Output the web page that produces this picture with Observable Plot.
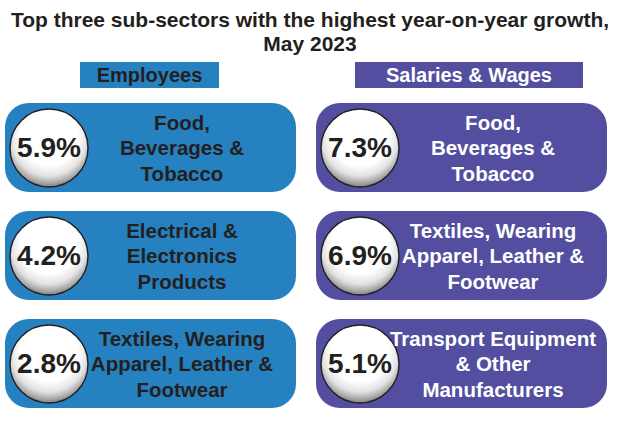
<!DOCTYPE html>
<html>
<head>
<meta charset="utf-8">
<script src="https://cdn.jsdelivr.net/npm/d3@7"></script>
<script src="https://cdn.jsdelivr.net/npm/@observablehq/plot@0.6"></script>
<style>
  html, body { margin: 0; padding: 0; background: #ffffff; }
  body { width: 620px; height: 433px; overflow: hidden; font-family: "Liberation Sans", Arial, sans-serif; color: #231f20; }
  #title { box-sizing: border-box; height: 58px; padding-top: 8px; text-align: center; font-weight: bold; font-size: 21px; line-height: 24px; }
  #headers { position: relative; height: 34px; }
  .hdr { position: absolute; top: 4px; height: 26px; line-height: 26px; text-align: center; font-weight: bold; font-size: 20px; }
  #chart svg { display: block; }
</style>
</head>
<body>
<div id="title">Top three sub-sectors with the highest year-on-year growth,<br>May 2023</div>
<div id="headers"></div>
<div id="chart"></div>
<script>
// ---- data ----
const series = ["Employees", "Salaries & Wages"];
const ranks = [1, 2, 3];
const employeesSectors = [
  "Food,\nBeverages &\nTobacco",
  "Electrical &\nElectronics\nProducts",
  "Textiles, Wearing\nApparel, Leather &\nFootwear"
];
const employeesGrowth = [5.9, 4.2, 2.8];
const wagesSectors = [
  "Food,\nBeverages &\nTobacco",
  "Textiles, Wearing\nApparel, Leather &\nFootwear",
  "Transport Equipment\n& Other\nManufacturers"
];
const wagesGrowth = [7.3, 6.9, 5.1];
const seriesColors = ["#2681c0", "#534e9f"];
const labelColors = ["#231f20", "#ffffff"];

// ---- table ----
const rows = [];
ranks.forEach((r, i) => {
  rows.push({series: series[0], rank: r, sector: employeesSectors[i], growth: employeesGrowth[i]});
  rows.push({series: series[1], rank: r, sector: wagesSectors[i], growth: wagesGrowth[i]});
});
const labelColorOf = s => labelColors[series.indexOf(s)];

// ---- column headers ----
const headerLayout = [{left: 80, width: 139}, {left: 355, width: 228}];
const hdrs = document.getElementById("headers");
series.forEach((s, i) => {
  const d = document.createElement("div");
  d.className = "hdr";
  d.textContent = s;
  d.style.left = headerLayout[i].left + "px";
  d.style.width = headerLayout[i].width + "px";
  d.style.background = seriesColors[i];
  d.style.color = labelColors[i];
  hdrs.appendChild(d);
});

// ---- chart ----
const chart = Plot.plot({
  width: 620,
  height: 341,
  margin: 0,
  style: {fontFamily: "'Liberation Sans', Arial, sans-serif", background: "transparent"},
  x: {type: "band", domain: series, range: [5, 607], paddingInner: 0.065, paddingOuter: 0, axis: null},
  y: {type: "band", domain: ranks, range: [10, 318], paddingInner: 0.174, paddingOuter: 0, axis: null},
  color: {domain: series, range: seriesColors},
  marks: [
    Plot.cell(rows, {x: "series", y: "rank", fill: "series", rx: 24, ry: 24}),
    Plot.dot(rows, {x: "series", y: "rank", r: 39, dx: -102, fill: "url(#ballGrad)", stroke: "#231f20", strokeWidth: 1.4}),
    Plot.text(rows, {x: "series", y: "rank", dx: -102, text: d => d.growth.toFixed(1) + "%", fontSize: 28, fontWeight: "bold", fill: "#231f20"}),
    Plot.text(rows, {x: "series", y: "rank", dx: 31, dy: -1, text: "sector", fontSize: 20.5, fontWeight: "bold", lineHeight: 1.25, fill: d => labelColorOf(d.series)})
  ]
});

// gradient definition for the white "ball" circles
const svg = d3.select(chart);
const defs = svg.insert("defs", ":first-child");
const g = defs.append("radialGradient").attr("id", "ballGrad")
  .attr("cx", "50%").attr("cy", "40%").attr("r", "62%").attr("fx", "50%").attr("fy", "28%");
[[0, "#ffffff"], [0.6, "#ffffff"], [0.78, "#e3e3e3"], [0.9, "#aaaaaa"], [1, "#6e6e6e"]]
  .forEach(([o, c]) => g.append("stop").attr("offset", o).attr("stop-color", c));

document.getElementById("chart").appendChild(chart);
</script>
</body>
</html>
